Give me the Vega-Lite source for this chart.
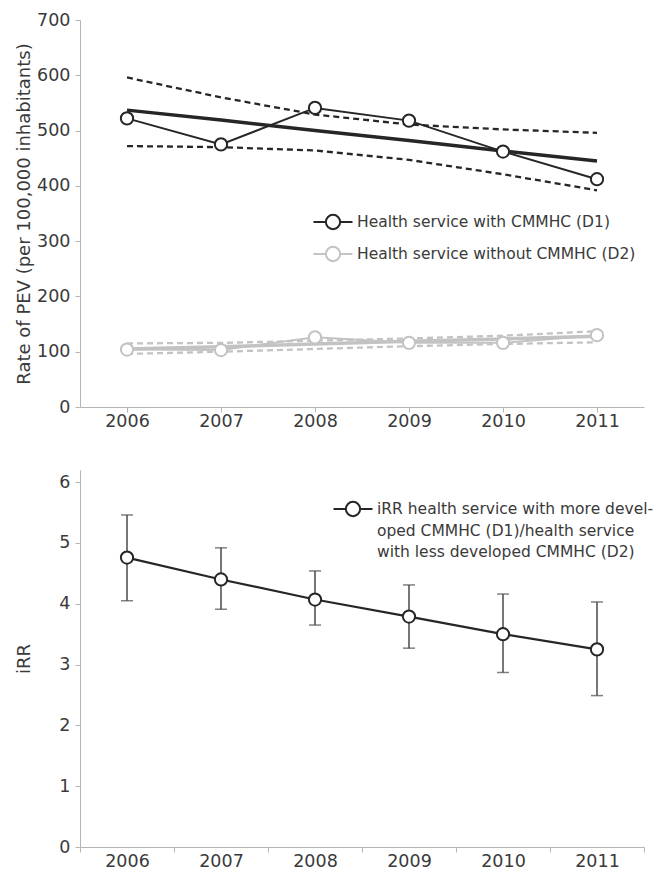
{
  "$schema": "https://vega.github.io/schema/vega-lite/v6.json",
  "background": "white",
  "padding": {"left": 15, "top": 11, "right": 0, "bottom": 0},
  "config": {
    "font": "DejaVu Sans",
    "view": {"stroke": null},
    "concat": {"spacing": 40},
    "style": {"guide-label": {"lineHeight": 21.5}},
    "axis": {
      "labelFont": "DejaVu Sans", "labelFontSize": 17.5, "labelColor": "#3a3a3a",
      "titleFont": "DejaVu Sans", "titleFontWeight": "normal", "titleColor": "#3a3a3a", "titleFontSize": 18,
      "domainColor": "#b5b5b5", "tickColor": "#b5b5b5", "tickSize": 5, "grid": false
    },
    "axisX": {"labelPadding": 0, "labelAngle": 0, "tickBand": "extent", "title": null},
    "axisY": {"labelPadding": 5, "titleX": -47, "format": "d"},
    "legend": {
      "padding": 0, "labelFont": "DejaVu Sans", "labelFontSize": 15.5, "labelColor": "#3a3a3a",
      "labelLimit": 400, "symbolStrokeWidth": 2, "symbolFillColor": "white"
    }
  },
  "resolve": {"scale": {"stroke": "independent"}, "legend": {"stroke": "independent"}},
  "datasets": {
    "obs": [
      {"year": "2006", "series": "Health service with CMMHC (D1)", "rate": 522},
      {"year": "2007", "series": "Health service with CMMHC (D1)", "rate": 475},
      {"year": "2008", "series": "Health service with CMMHC (D1)", "rate": 541},
      {"year": "2009", "series": "Health service with CMMHC (D1)", "rate": 518},
      {"year": "2010", "series": "Health service with CMMHC (D1)", "rate": 462},
      {"year": "2011", "series": "Health service with CMMHC (D1)", "rate": 412},
      {"year": "2006", "series": "Health service without CMMHC (D2)", "rate": 104},
      {"year": "2007", "series": "Health service without CMMHC (D2)", "rate": 103},
      {"year": "2008", "series": "Health service without CMMHC (D2)", "rate": 126},
      {"year": "2009", "series": "Health service without CMMHC (D2)", "rate": 116},
      {"year": "2010", "series": "Health service without CMMHC (D2)", "rate": 116},
      {"year": "2011", "series": "Health service without CMMHC (D2)", "rate": 130}
    ],
    "trend": [
      {"year": "2006", "series": "Health service with CMMHC (D1)", "rate": 537},
      {"year": "2007", "series": "Health service with CMMHC (D1)", "rate": 519},
      {"year": "2008", "series": "Health service with CMMHC (D1)", "rate": 500},
      {"year": "2009", "series": "Health service with CMMHC (D1)", "rate": 482},
      {"year": "2010", "series": "Health service with CMMHC (D1)", "rate": 463},
      {"year": "2011", "series": "Health service with CMMHC (D1)", "rate": 445},
      {"year": "2006", "series": "Health service without CMMHC (D2)", "rate": 105},
      {"year": "2007", "series": "Health service without CMMHC (D2)", "rate": 109},
      {"year": "2008", "series": "Health service without CMMHC (D2)", "rate": 114},
      {"year": "2009", "series": "Health service without CMMHC (D2)", "rate": 119},
      {"year": "2010", "series": "Health service without CMMHC (D2)", "rate": 123},
      {"year": "2011", "series": "Health service without CMMHC (D2)", "rate": 128}
    ],
    "ci": [
      {"year": "2006", "series": "Health service with CMMHC (D1)", "bound": "upper", "rate": 596},
      {"year": "2007", "series": "Health service with CMMHC (D1)", "bound": "upper", "rate": 560},
      {"year": "2008", "series": "Health service with CMMHC (D1)", "bound": "upper", "rate": 529},
      {"year": "2009", "series": "Health service with CMMHC (D1)", "bound": "upper", "rate": 511},
      {"year": "2010", "series": "Health service with CMMHC (D1)", "bound": "upper", "rate": 502},
      {"year": "2011", "series": "Health service with CMMHC (D1)", "bound": "upper", "rate": 496},
      {"year": "2006", "series": "Health service with CMMHC (D1)", "bound": "lower", "rate": 472},
      {"year": "2007", "series": "Health service with CMMHC (D1)", "bound": "lower", "rate": 470},
      {"year": "2008", "series": "Health service with CMMHC (D1)", "bound": "lower", "rate": 464},
      {"year": "2009", "series": "Health service with CMMHC (D1)", "bound": "lower", "rate": 447},
      {"year": "2010", "series": "Health service with CMMHC (D1)", "bound": "lower", "rate": 421},
      {"year": "2011", "series": "Health service with CMMHC (D1)", "bound": "lower", "rate": 392},
      {"year": "2006", "series": "Health service without CMMHC (D2)", "bound": "upper", "rate": 115},
      {"year": "2007", "series": "Health service without CMMHC (D2)", "bound": "upper", "rate": 116},
      {"year": "2008", "series": "Health service without CMMHC (D2)", "bound": "upper", "rate": 120},
      {"year": "2009", "series": "Health service without CMMHC (D2)", "bound": "upper", "rate": 124},
      {"year": "2010", "series": "Health service without CMMHC (D2)", "bound": "upper", "rate": 129},
      {"year": "2011", "series": "Health service without CMMHC (D2)", "bound": "upper", "rate": 137},
      {"year": "2006", "series": "Health service without CMMHC (D2)", "bound": "lower", "rate": 96},
      {"year": "2007", "series": "Health service without CMMHC (D2)", "bound": "lower", "rate": 100},
      {"year": "2008", "series": "Health service without CMMHC (D2)", "bound": "lower", "rate": 105},
      {"year": "2009", "series": "Health service without CMMHC (D2)", "bound": "lower", "rate": 110},
      {"year": "2010", "series": "Health service without CMMHC (D2)", "bound": "lower", "rate": 114},
      {"year": "2011", "series": "Health service without CMMHC (D2)", "bound": "lower", "rate": 117}
    ],
    "irr": [
      {"year": "2006", "series": "iRR health service with more devel-|oped CMMHC (D1)/health service|with less developed CMMHC (D2)", "irr": 4.76, "lo": 4.05, "hi": 5.46},
      {"year": "2007", "series": "iRR health service with more devel-|oped CMMHC (D1)/health service|with less developed CMMHC (D2)", "irr": 4.40, "lo": 3.91, "hi": 4.92},
      {"year": "2008", "series": "iRR health service with more devel-|oped CMMHC (D1)/health service|with less developed CMMHC (D2)", "irr": 4.07, "lo": 3.65, "hi": 4.54},
      {"year": "2009", "series": "iRR health service with more devel-|oped CMMHC (D1)/health service|with less developed CMMHC (D2)", "irr": 3.79, "lo": 3.27, "hi": 4.31},
      {"year": "2010", "series": "iRR health service with more devel-|oped CMMHC (D1)/health service|with less developed CMMHC (D2)", "irr": 3.50, "lo": 2.87, "hi": 4.16},
      {"year": "2011", "series": "iRR health service with more devel-|oped CMMHC (D1)/health service|with less developed CMMHC (D2)", "irr": 3.25, "lo": 2.49, "hi": 4.03}
    ]
  },
  "vconcat": [
    {
      "width": 564,
      "height": 387,
      "encoding": {
        "x": {"field": "year", "type": "ordinal", "scale": {"paddingInner": 0, "paddingOuter": 0}},
        "y": {"field": "rate", "type": "quantitative", "scale": {"domain": [0, 700], "nice": false},
              "axis": {"values": [0, 100, 200, 300, 400, 500, 600, 700], "title": "Rate of PEV (per 100,000 inhabitants)"}},
        "stroke": {
          "field": "series", "type": "nominal",
          "scale": {"domain": ["Health service with CMMHC (D1)", "Health service without CMMHC (D2)"], "range": ["#262626", "#c3c3c3"]},
          "legend": {
            "title": null, "orient": "none", "legendX": 239, "legendY": 188,
            "symbolType": "M-1.5,0L-0.55,0M0.55,0L1.5,0M0.55,0A0.55,0.55,0,1,1,-0.55,0A0.55,0.55,0,1,1,0.55,0Z",
            "symbolSize": 676, "labelOffset": 10, "rowPadding": 6
          }
        }
      },
      "layer": [
        {"data": {"name": "ci"}, "mark": {"type": "line", "strokeDash": [6, 4], "strokeWidth": 2.3}, "encoding": {"detail": {"field": "bound"}}},
        {"data": {"name": "trend"}, "mark": {"type": "line", "strokeWidth": 3.5}},
        {"data": {"name": "obs"}, "mark": {"type": "line", "strokeWidth": 2}},
        {"data": {"name": "obs"}, "mark": {"type": "point", "shape": "circle", "size": 150, "fill": "white", "fillOpacity": 1, "strokeWidth": 2, "opacity": 1}}
      ]
    },
    {
      "width": 564,
      "height": 377,
      "data": {"name": "irr"},
      "encoding": {
        "x": {"field": "year", "type": "ordinal", "scale": {"paddingInner": 0, "paddingOuter": 0}}
      },
      "layer": [
        {"mark": {"type": "rule", "color": "#4a4a4a", "strokeWidth": 1.5},
         "encoding": {"y": {"field": "lo", "type": "quantitative", "scale": {"domain": [0, 6.2], "nice": false},
                            "axis": {"values": [0, 1, 2, 3, 4, 5, 6], "title": "iRR"}},
                      "y2": {"field": "hi"}}},
        {"mark": {"type": "tick", "color": "#4a4a4a", "thickness": 1.5, "size": 12}, "encoding": {"y": {"field": "lo", "type": "quantitative"}}},
        {"mark": {"type": "tick", "color": "#4a4a4a", "thickness": 1.5, "size": 12}, "encoding": {"y": {"field": "hi", "type": "quantitative"}}},
        {"mark": {"type": "line", "strokeWidth": 2.2},
         "encoding": {"y": {"field": "irr", "type": "quantitative"},
                      "stroke": {"field": "series", "type": "nominal", "scale": {"range": ["#262626"]},
                                 "legend": {"title": null, "orient": "none", "legendX": 259, "legendY": 18,
                                            "symbolType": "M-1.5,0.54L-0.55,0.54M0.55,0.54L1.5,0.54M0.55,0.54A0.55,0.55,0,1,1,-0.55,0.54A0.55,0.55,0,1,1,0.55,0.54Z",
                                            "symbolSize": 676, "labelOffset": 10, "labelBaseline": "top",
                                            "labelExpr": "split(datum.label, '|')"}}}},
        {"mark": {"type": "point", "shape": "circle", "size": 150, "fill": "white", "fillOpacity": 1, "strokeWidth": 2, "opacity": 1},
         "encoding": {"y": {"field": "irr", "type": "quantitative"},
                      "stroke": {"field": "series", "type": "nominal"}}}
      ]
    }
  ]
}
